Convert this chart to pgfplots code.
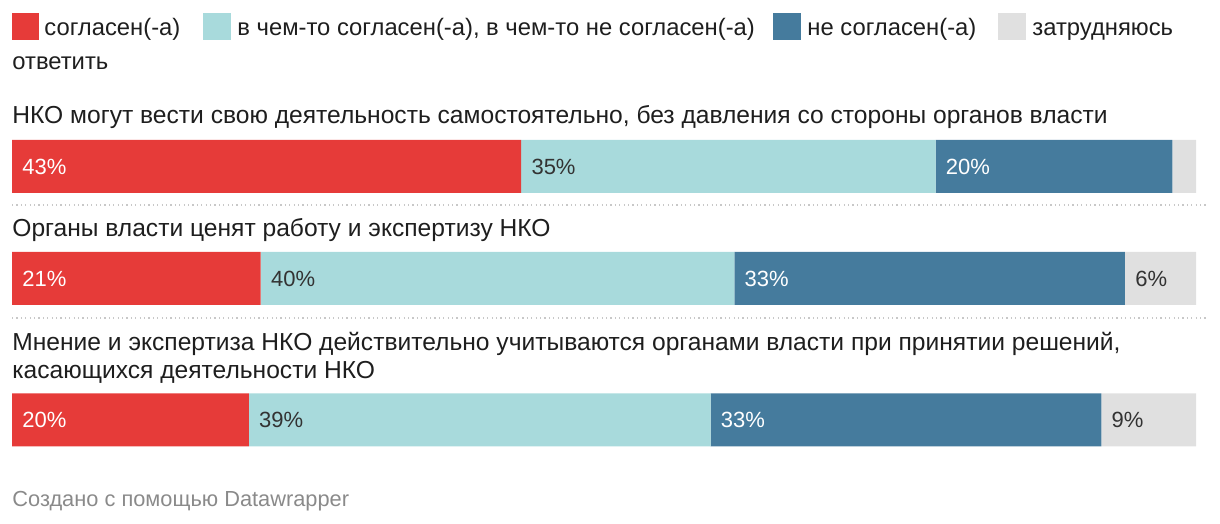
\documentclass[border=0pt]{standalone}
\usepackage{fontspec}
\setmainfont{Liberation Sans}
\usepackage{pgfplots}
\pgfplotsset{compat=1.18}
\definecolor{cred}{HTML}{E63B39}
\definecolor{ccyan}{HTML}{A8DADC}
\definecolor{cblue}{HTML}{457B9D}
\definecolor{cgray}{HTML}{E0E0E0}
\definecolor{ctext}{HTML}{1E1E1E}
\definecolor{clab}{HTML}{333333}
\definecolor{cfoot}{HTML}{8A8A8A}
\definecolor{csep}{HTML}{C8C8C8}
\newcommand{\tf}{\fontsize{12.3}{14}\selectfont}
\newcommand{\lf}{\fontsize{11.9}{14}\selectfont}
\newcommand{\vf}{\fontsize{11}{13}\selectfont}
\begin{document}
\begin{tikzpicture}
\path[use as bounding box] (0,0) rectangle (610pt,262pt);
\pgfplotsset{base/.style={
 scale only axis, width=610pt, height=262pt, at={(0,0)}, anchor=south west,
 xmin=-1.0135, xmax=102.027, ymin=-524, ymax=0,
 hide axis, clip=false, enlargelimits=false}}
\begin{axis}[base, xbar stacked, bar width=26.5pt, bar shift=0pt]
\addplot[fill=cred, draw=none] coordinates {(43,-166.5) (21,-278.5) (20,-420)};
\addplot[fill=ccyan, draw=none] coordinates {(35,-166.5) (40,-278.5) (39,-420)};
\addplot[fill=cblue, draw=none] coordinates {(20,-166.5) (33,-278.5) (33,-420)};
\addplot[fill=cgray, draw=none] coordinates {(2,-166.5) (6,-278.5) (8,-420)};
\end{axis}
\begin{axis}[base]
\addplot[only marks, mark=none, nodes near coords, point meta=explicit symbolic,
  nodes near coords style={anchor=west, xshift=5pt, inner sep=0pt, text=white, font=\vf}]
  table[meta=label, row sep=\\] {x y label\\ 0 -166.5 43\%\\ 78 -166.5 20\%\\ 0 -278.5 21\%\\ 61 -278.5 33\%\\ 0 -420 20\%\\ 59 -420 33\%\\};
\addplot[only marks, mark=none, nodes near coords, point meta=explicit symbolic,
  nodes near coords style={anchor=west, xshift=5pt, inner sep=0pt, text=clab, font=\vf}]
  table[meta=label, row sep=\\] {x y label\\ 43 -166.5 35\%\\ 21 -278.5 40\%\\ 94 -278.5 6\%\\ 20 -420 39\%\\ 92 -420 9\%\\};
\end{axis}
\begin{scope}[yshift=262pt, x=0.5pt, y=-0.5pt]
 \fill[cred] (12,13) rectangle (39,40);
 \fill[ccyan] (203,13) rectangle (231,40);
 \fill[cblue] (773,13) rectangle (801,40);
 \fill[cgray] (998,13) rectangle (1026,40);
 \begin{scope}[every node/.style={anchor=base west, inner sep=0pt, font=\tf, text=ctext}]
 \node[font=\lf] at (44,36) {согласен(-а)};
 \node[font=\lf] at (237,36) {в чем-то согласен(-а), в чем-то не согласен(-а)};
 \node[font=\lf] at (807,36) {не согласен(-а)};
 \node[font=\lf] at (1032,36) {затрудняюсь};
 \node[font=\lf] at (12,70) {ответить};
 \node at (12,124) {НКО могут вести свою деятельность самостоятельно, без давления со стороны органов власти};
 \node at (12,237) {Органы власти ценят работу и экспертизу НКО};
 \node at (12,351) {Мнение и экспертиза НКО действительно учитываются органами власти при принятии решений,};
 \node at (12,379) {касающихся деятельности НКО};
 \node[font=\fontsize{10.9}{12}\selectfont, text=cfoot] at (12,507) {Создано с помощью Datawrapper};
 \end{scope}
 \draw[csep, line width=0.6pt, dash pattern=on 0.6pt off 1.6pt] (12,205) -- (1208,205);
 \draw[csep, line width=0.6pt, dash pattern=on 0.6pt off 1.6pt] (12,318) -- (1208,318);
\end{scope}
\end{tikzpicture}
\end{document}
